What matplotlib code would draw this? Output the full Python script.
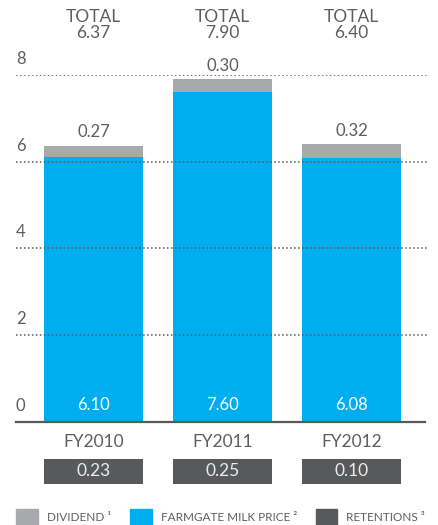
import matplotlib
matplotlib.use("Agg")
import matplotlib.pyplot as plt
from matplotlib.patches import Patch

# data
years = ["FY2010", "FY2011", "FY2012"]
milk_price = [6.10, 7.60, 6.08]
dividend = [0.27, 0.30, 0.32]
totals = [6.37, 7.90, 6.40]
retentions = [0.23, 0.25, 0.10]
yticks = [0, 2, 4, 6, 8]

BLUE = "#00aeef"
GREY = "#a7a9ac"
DARK = "#58595b"
TXT = "#5d5e60"

plt.rcParams["font.family"] = ["Lato", "DejaVu Sans"]

W, H = 439, 525
fig = plt.figure(figsize=(W / 100, H / 100), dpi=100)
left_px, right_px = 16, 427
y0_px, y8_px = 421.7, 75
ax = fig.add_axes([left_px / W, 1 - y0_px / H,
                   (right_px - left_px) / W, (y0_px - y8_px) / H])
ax.set_ylim(0, 8)
ax.set_xlim(-0.601, 2.585)
ax.axis("off")

x = list(range(len(years)))
bw = 0.767
ax.bar(x, milk_price, bw, color=BLUE, zorder=2)
ax.bar(x, dividend, bw, bottom=milk_price, color=GREY, zorder=2)

# grid over the bars
for t in yticks[1:]:
    ax.axhline(t, color=DARK, lw=1.1, ls=(0, (1, 1.6)), zorder=3)
ax.axhline(0, xmax=0.995, color=DARK, lw=1.6, zorder=3, clip_on=False)
for t in yticks:
    ax.text(0, t + 0.37, str(t), transform=ax.get_yaxis_transform(),
            ha="left", va="center", fontsize=12, color=TXT)

for i in x:
    ax.text(i, 0.385, f"{milk_price[i]:.2f}", ha="center", va="center",
            fontsize=12, color="white", zorder=4)
    ax.annotate(f"{dividend[i]:.2f}", (i, totals[i]), xytext=(0, 9.5),
                textcoords="offset points", ha="center", va="center",
                fontsize=12, color=TXT, annotation_clip=False)
    ax.text(i, 9.336, "TOTAL", ha="center", va="center", fontsize=12.5,
            color=TXT, clip_on=False)
    ax.text(i, 8.967, f"{totals[i]:.2f}", ha="center", va="center",
            fontsize=12.5, color=TXT, clip_on=False)
    ax.text(i, -0.468, years[i], ha="center", va="center", fontsize=12.5,
            color=TXT, clip_on=False)

# retentions boxes under the years
box_h = 25 / 43.34
box_bottom = -1.437
ax.bar(x, [box_h] * len(x), bw, bottom=box_bottom, color=DARK, clip_on=False)
for i in x:
    ax.text(i, box_bottom + box_h / 2, f"{retentions[i]:.2f}", ha="center",
            va="center", fontsize=12.5, color="#ececec", clip_on=False)

handles = [Patch(color=GREY), Patch(color=BLUE), Patch(color=DARK)]
labels = ["DIVIDEND \u00b9", "FARMGATE MILK PRICE \u00b2", "RETENTIONS \u00b3"]
fig.legend(handles, labels, loc="lower left", bbox_to_anchor=(left_px / W, -0.002),
           ncol=3, frameon=False, fontsize=8.5, labelcolor=TXT,
           handlelength=1.85, handleheight=1.85, handletextpad=0.75,
           columnspacing=1.6, borderpad=0, borderaxespad=0)

fig.savefig("out.png", dpi=100)
